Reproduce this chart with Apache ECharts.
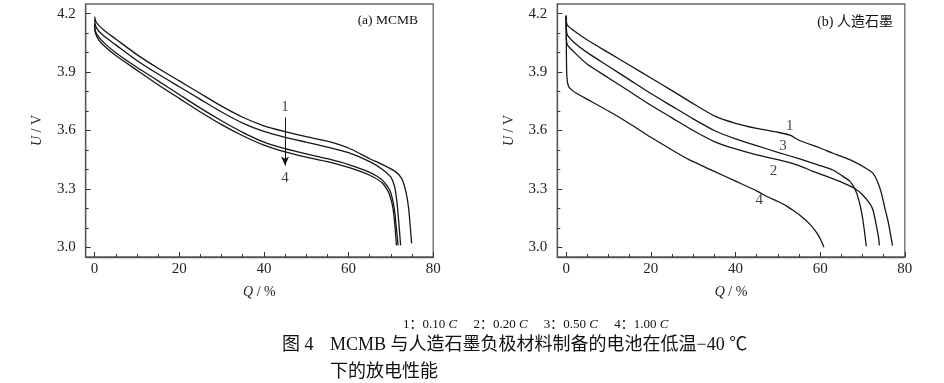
<!DOCTYPE html>
<html>
<head>
<meta charset="utf-8">
<script src="https://cdn.jsdelivr.net/npm/echarts@6/dist/echarts.min.js"></script>
<style>
html,body{margin:0;padding:0;background:#fff;}
#chart{width:944px;height:383px;}
</style>
</head>
<body>
<div id="chart"></div>
<script>
// ---------- data ----------
const xMajor = [0, 20, 40, 60, 80];
const xMinor = [5, 10, 15, 25, 30, 35, 45, 50, 55, 65, 70, 75];
const yMajor = [3.0, 3.3, 3.6, 3.9, 4.2];
const yMinor = [3.1, 3.2, 3.4, 3.5, 3.7, 3.8, 4.0, 4.1];
const rateNames = ['0.10 C', '0.20 C', '0.50 C', '1.00 C'];

// (a) MCMB  [Q %, U V]
const mcmb_1 = [[0,4.185],[0.3,4.16],[1,4.14],[2.5,4.11],[5,4.07],[10,3.99],[15,3.92],[20,3.855],[25,3.79],[30,3.725],[35,3.668],[40,3.624],[45,3.594],[50,3.568],[55,3.545],[60,3.51],[65,3.455],[68,3.425],[71,3.39],[72.5,3.355],[73.5,3.29],[74.2,3.2],[74.6,3.1],[74.9,3.02]];
const mcmb_2 = [[0,4.17],[0.2,4.14],[1,4.11],[2.5,4.08],[5,4.04],[10,3.96],[15,3.89],[20,3.825],[25,3.76],[30,3.695],[35,3.638],[40,3.595],[45,3.565],[50,3.54],[55,3.515],[60,3.486],[65,3.44],[68,3.40],[70,3.36],[70.9,3.31],[71.5,3.22],[71.9,3.12],[72.3,3.01]];
const mcmb_3 = [[0,4.15],[0.2,4.11],[1,4.08],[2.5,4.045],[5,4.0],[10,3.925],[15,3.855],[20,3.785],[25,3.715],[30,3.65],[35,3.59],[40,3.54],[45,3.507],[50,3.48],[55,3.455],[60,3.425],[65,3.385],[68,3.345],[69.8,3.29],[70.8,3.2],[71.3,3.1],[71.7,3.01]];
const mcmb_4 = [[0,4.14],[0.2,4.1],[1,4.065],[2.5,4.03],[5,3.985],[10,3.91],[15,3.835],[20,3.765],[25,3.695],[30,3.63],[35,3.573],[40,3.525],[45,3.49],[50,3.463],[55,3.44],[60,3.41],[65,3.37],[68,3.33],[69.5,3.28],[70.5,3.2],[71,3.1],[71.3,3.01]];

// (b) 人造石墨
const ag_1 = [[0,4.19],[0.05,4.16],[0.3,4.14],[2,4.11],[5,4.065],[10,4.0],[15,3.935],[20,3.87],[25,3.805],[30,3.738],[35,3.675],[40,3.637],[45,3.611],[50,3.591],[53,3.575],[55,3.55],[60,3.51],[63,3.483],[67,3.45],[70.9,3.405],[72.5,3.38],[73.5,3.34],[74.5,3.276],[75.3,3.2],[76,3.138],[76.6,3.07],[77.1,3.009]];
const ag_2 = [[0,4.19],[0.05,4.07],[0.3,4.04],[2,4.0],[5,3.94],[10,3.87],[15,3.80],[20,3.73],[25,3.665],[30,3.60],[35,3.543],[40,3.505],[45,3.475],[50,3.45],[55,3.42],[58.3,3.39],[62,3.36],[65,3.335],[68.2,3.302],[70,3.27],[71.7,3.225],[72.5,3.19],[73.3,3.11],[73.8,3.05],[74.0,3.01]];
const ag_3 = [[0,4.19],[0.05,4.12],[0.3,4.09],[2,4.05],[5,4.0],[10,3.93],[15,3.86],[20,3.79],[25,3.725],[30,3.66],[35,3.6],[40,3.557],[45,3.522],[50,3.488],[55,3.455],[60,3.42],[63,3.397],[65,3.37],[67,3.34],[68.2,3.3],[68.9,3.26],[69.6,3.2],[70.1,3.14],[70.6,3.06],[70.9,3.005]];
const ag_4 = [[0,4.19],[0.05,4.0],[0.15,3.88],[0.5,3.83],[1.2,3.81],[2.5,3.79],[5,3.76],[10,3.70],[15,3.635],[20,3.565],[25,3.50],[29,3.45],[35,3.39],[40,3.34],[45,3.29],[47.3,3.262],[50,3.235],[52,3.213],[53.6,3.19],[55.5,3.16],[57.5,3.12],[59,3.08],[60,3.045],[60.9,3.0]];

// annotations (data coordinates)
const arrowA = [[45, 3.667], [45, 3.42]];
const labelsA = [[45, 3.72, '1'], [45, 3.354, '4']];
const labelsB = [[52.8, 3.624, '1'], [51.2, 3.521, '3'], [49.0, 3.39, '2'], [45.6, 3.242, '4']];

// ---------- chart ----------
const SERIF = '"Liberation Serif", "Times New Roman", "Noto Sans CJK SC", serif';
const AX = '#555';
const INK = '#161616';

function grid(left) {
  return { left: left, top: 4, width: 347.5, height: 253, show: true, borderColor: '#666', borderWidth: 1.3, backgroundColor: 'transparent' };
}
function xMain(gi) {
  return {
    gridIndex: gi, type: 'value', min: -2.1, max: 80,
    axisLine: { show: true, onZero: false, lineStyle: { color: AX, width: 1.3 } },
    axisTick: { show: true, inside: true, length: 5, customValues: xMajor, lineStyle: { color: '#333', width: 1 } },
    axisLabel: { customValues: xMajor, fontFamily: SERIF, fontSize: 15, color: '#222', margin: 5 },
    splitLine: { show: false },
    name: '{i|Q} / %', nameLocation: 'middle', nameGap: 28,
    nameTextStyle: { fontFamily: SERIF, fontSize: 14, color: '#222', rich: { i: { fontStyle: 'italic', fontFamily: SERIF, fontSize: 14, color: '#222' } } }
  };
}
function xMinorAx(gi) {
  return {
    gridIndex: gi, type: 'value', min: -2.1, max: 80, position: 'bottom',
    axisLine: { show: false, onZero: false },
    axisTick: { show: true, inside: true, length: 3, customValues: xMinor, lineStyle: { color: '#333', width: 1 } },
    axisLabel: { show: false }, splitLine: { show: false }
  };
}
function yMain(gi) {
  return {
    gridIndex: gi, type: 'value', min: 2.95, max: 4.25,
    axisLine: { show: true, onZero: false, lineStyle: { color: AX, width: 1.3 } },
    axisTick: { show: true, inside: true, length: 5, customValues: yMajor, lineStyle: { color: '#333', width: 1 } },
    axisLabel: { customValues: yMajor, formatter: v => Number(v).toFixed(1), fontFamily: SERIF, fontSize: 15, color: '#222', margin: 10 },
    splitLine: { show: false },
    name: '{i|U} / V', nameLocation: 'middle', nameGap: 41, nameRotate: 90,
    nameTextStyle: { fontFamily: SERIF, fontSize: 14, color: '#222', rich: { i: { fontStyle: 'italic', fontFamily: SERIF, fontSize: 14, color: '#222' } } }
  };
}
function yMinorAx(gi) {
  return {
    gridIndex: gi, type: 'value', min: 2.95, max: 4.25, position: 'left',
    axisLine: { show: false, onZero: false },
    axisTick: { show: true, inside: true, length: 3, customValues: yMinor, lineStyle: { color: '#333', width: 1 } },
    axisLabel: { show: false }, splitLine: { show: false }
  };
}
function curve(name, data, xi, yi) {
  return {
    type: 'line', name: name, data: data, xAxisIndex: xi, yAxisIndex: yi,
    showSymbol: false, symbol: 'none', smooth: 0.2,
    lineStyle: { color: INK, width: 1.3 }, silent: true, z: 3
  };
}
function labelSeries(arr, xi, yi) {
  return {
    type: 'scatter', xAxisIndex: xi, yAxisIndex: yi, symbolSize: 0, silent: true,
    data: arr.map(a => ({ value: [a[0], a[1]], name: a[2] })),
    label: { show: true, position: 'inside', formatter: '{b}', fontFamily: SERIF, fontSize: 15, color: '#111' }
  };
}

const seriesA = [mcmb_1, mcmb_2, mcmb_3, mcmb_4].map((d, i) => curve('a ' + rateNames[i], d, 0, 0));
seriesA[0].markLine = {
  silent: true, symbol: ['none', 'arrow'], symbolSize: [6, 9], animation: false,
  lineStyle: { color: '#111', width: 1, type: 'solid' }, label: { show: false },
  data: [[{ coord: arrowA[0] }, { coord: arrowA[1] }]]
};
const seriesB = [ag_1, ag_2, ag_3, ag_4].map((d, i) => curve('b ' + rateNames[i], d, 2, 2));

const chart = echarts.init(document.getElementById('chart'), null, { renderer: 'canvas' });
chart.setOption({
  animation: false,
  backgroundColor: '#fff',
  grid: [grid(85.7), grid(557.3)],
  xAxis: [xMain(0), xMinorAx(0), xMain(1), xMinorAx(1)],
  yAxis: [yMain(0), yMinorAx(0), yMain(1), yMinorAx(1)],
  series: [].concat(seriesA, seriesB, [labelSeries(labelsA, 0, 0), labelSeries(labelsB, 2, 2)]),
  graphic: [
    { type: 'text', x: 418, y: 20, style: { text: '(a) MCMB', fontFamily: SERIF, fontSize: 13.5, fill: '#111', align: 'right', verticalAlign: 'middle' } },
    { type: 'text', x: 893, y: 22, style: { text: '(b) 人造石墨', fontFamily: SERIF, fontSize: 14, fill: '#111', align: 'right', verticalAlign: 'middle' } },
    { type: 'text', x: 403, y: 325, style: {
        text: '1：0.10 {c|C}\u2003 2：0.20 {c|C}\u2003 3：0.50 {c|C}\u2003 4：1.00 {c|C}',
        fontFamily: SERIF, fontSize: 13, fill: '#111', verticalAlign: 'middle',
        rich: { c: { fontStyle: 'italic', fontFamily: SERIF, fontSize: 13, fill: '#111' } } } },
    { type: 'text', x: 282, y: 345, style: { text: '图 4', fontFamily: SERIF, fontSize: 18, fill: '#111', verticalAlign: 'middle' } },
    { type: 'text', x: 330, y: 345, style: { text: 'MCMB 与人造石墨负极材料制备的电池在低温−40 ℃', fontFamily: SERIF, fontSize: 18, fill: '#111', verticalAlign: 'middle' } },
    { type: 'text', x: 330, y: 372, style: { text: '下的放电性能', fontFamily: SERIF, fontSize: 18, fill: '#111', verticalAlign: 'middle' } }
  ]
});
</script>
</body>
</html>
